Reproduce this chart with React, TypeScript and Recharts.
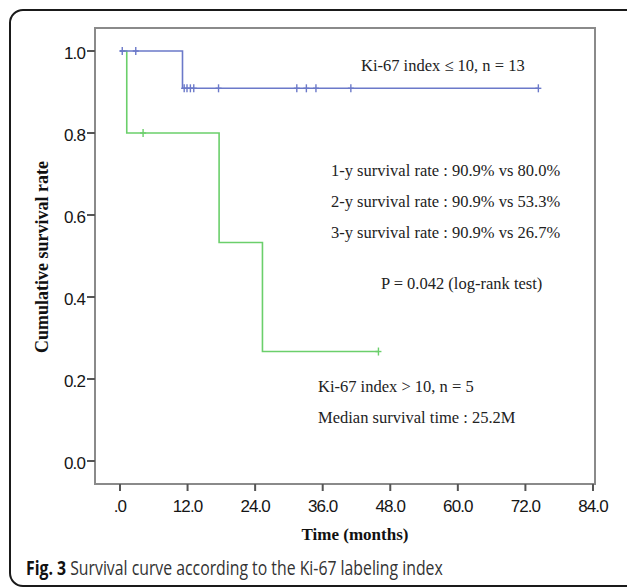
import { ComposedChart, Line, Scatter, XAxis, YAxis, ReferenceArea } from "recharts";

// Kaplan-Meier steps, Ki-67 index <= 10 (n = 13)
const lowTimes = [0, 11.1, 74.3];
const lowSurv = [1.0, 0.909, 0.909];
const lowCensorTimes = [0.4, 2.8, 11.4, 11.9, 12.5, 13.1, 17.5, 31.4, 33.1, 34.8, 41.0, 74.3];
const lowCensorSurv = [1.0, 1.0, 0.909, 0.909, 0.909, 0.909, 0.909, 0.909, 0.909, 0.909, 0.909, 0.909];

// Ki-67 index > 10 (n = 5)
const highTimes = [0, 1.2, 17.6, 25.3, 45.9];
const highSurv = [1.0, 0.8, 0.533, 0.267, 0.267];
const highCensorTimes = [4.1, 45.9];
const highCensorSurv = [0.8, 0.267];

const xTicks = [0, 12, 24, 36, 48, 60, 72, 84];
const yTicks = [0, 0.2, 0.4, 0.6, 0.8, 1.0];

const BLUE = "#6b79c9";
const GREEN = "#6bcf6b";

const toPoints = (ts: number[], ss: number[]) => ts.map((t, i) => ({ t, s: ss[i] }));

const lowLine = toPoints(lowTimes, lowSurv);
const highLine = toPoints(highTimes, highSurv);
const lowCensor = toPoints(lowCensorTimes, lowCensorSurv);
const highCensor = toPoints(highCensorTimes, highCensorSurv);

function Censor(props: any) {
  const { cx, cy, color } = props;
  if (cx == null || cy == null) return null;
  return (
    <g stroke={color} strokeWidth={1.4}>
      <line x1={cx} y1={cy - 4} x2={cx} y2={cy + 4} />
      <line x1={cx - 3} y1={cy} x2={cx + 3} y2={cy} />
    </g>
  );
}

const serif = "'Liberation Serif', 'Times New Roman', serif";
const sans = "'Liberation Sans', Arial, sans-serif";
const note: React.CSSProperties = {
  position: "absolute",
  fontFamily: serif,
  fontSize: 16.5,
  color: "#222",
  whiteSpace: "nowrap",
  lineHeight: "17px",
};
const tickStyle = { fill: "#151515", fontSize: 17, fontFamily: sans, letterSpacing: -0.9 };

export default function App() {
  return (
    <div style={{ position: "absolute", left: 0, top: 0, width: 627, height: 588, overflow: "hidden", background: "#fff" }}>
      <div
        style={{
          position: "absolute",
          left: 9,
          top: 9,
          width: 660,
          height: 578,
          border: "2px solid #1a1a1a",
          borderRadius: 14,
          boxSizing: "border-box",
        }}
      />
      <div style={{ position: "absolute", left: 0, top: 0 }}>
        <ComposedChart width={627} height={588} margin={{ top: 28, right: 32, bottom: 64, left: 35 }}>
          <XAxis
            dataKey="t"
            type="number"
            domain={[-4.44, 84.36]}
            ticks={xTicks}
            allowDataOverflow
            height={40}
            axisLine={false}
            tickSize={7}
            tickMargin={9}
            tickLine={{ stroke: "#555", strokeWidth: 2 }}
            tick={tickStyle}
            tickFormatter={(v: number) => (v === 0 ? ".0" : v.toFixed(1))}
          />
          <YAxis
            dataKey="s"
            type="number"
            domain={[-0.0561, 1.0561]}
            ticks={yTicks}
            allowDataOverflow
            width={60}
            axisLine={false}
            tickSize={8}
            tickMargin={2}
            tickLine={{ stroke: "#555", strokeWidth: 2 }}
            tick={{ ...tickStyle, dy: 2 }}
            tickFormatter={(v: number) => v.toFixed(1)}
          />
          <ReferenceArea x1={-4.44} x2={84.36} y1={-0.0561} y2={1.0561} fill="none" stroke="#8a8a8a" strokeWidth={2} fillOpacity={0} />
          <Line data={highLine} dataKey="s" type="stepAfter" stroke={GREEN} strokeWidth={1.6} dot={false} isAnimationActive={false} />
          <Line data={lowLine} dataKey="s" type="stepAfter" stroke={BLUE} strokeWidth={1.6} dot={false} isAnimationActive={false} />
          <Scatter data={highCensor} dataKey="s" shape={(p: any) => <Censor {...p} color={GREEN} />} isAnimationActive={false} />
          <Scatter data={lowCensor} dataKey="s" shape={(p: any) => <Censor {...p} color={BLUE} />} isAnimationActive={false} />
        </ComposedChart>
      </div>

      <div style={{ ...note, left: 361, top: 57 }}>Ki-67 index ≤ 10, n = 13</div>
      <div style={{ ...note, left: 331, top: 162 }}>1-y survival rate : 90.9% vs 80.0%</div>
      <div style={{ ...note, left: 331, top: 193 }}>2-y survival rate : 90.9% vs 53.3%</div>
      <div style={{ ...note, left: 331, top: 224 }}>3-y survival rate : 90.9% vs 26.7%</div>
      <div style={{ ...note, left: 381, top: 275 }}>P = 0.042 (log-rank test)</div>
      <div style={{ ...note, left: 318, top: 378 }}>Ki-67 index &gt; 10, n = 5</div>
      <div style={{ ...note, left: 318, top: 409 }}>Median survival time : 25.2M</div>

      <div
        style={{
          position: "absolute",
          left: 42,
          top: 257,
          transform: "translate(-50%, -50%) rotate(-90deg)",
          fontFamily: serif,
          fontWeight: "bold",
          fontSize: 18,
          color: "#111",
          whiteSpace: "nowrap",
        }}
      >
        Cumulative survival rate
      </div>
      <div
        style={{
          position: "absolute",
          left: 355,
          top: 535,
          transform: "translate(-50%, -50%)",
          fontFamily: serif,
          fontWeight: "bold",
          fontSize: 17,
          color: "#111",
          whiteSpace: "nowrap",
        }}
      >
        Time (months)
      </div>
      <div
        style={{
          position: "absolute",
          left: 26,
          top: 555,
          fontFamily: "'Open Sans', 'Noto Sans', sans-serif",
          fontSize: 20,
          color: "#333",
          whiteSpace: "nowrap",
          lineHeight: "26px",
          transform: "scaleX(0.79)",
          transformOrigin: "left center",
        }}
      >
        <b style={{ color: "#111" }}>Fig. 3</b> Survival curve according to the Ki-67 labeling index
      </div>
    </div>
  );
}
